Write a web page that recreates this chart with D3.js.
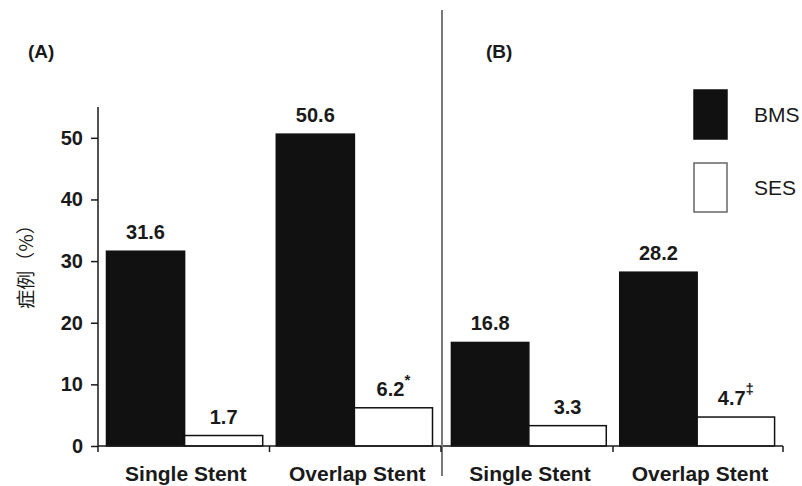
<!DOCTYPE html>
<html>
<head>
<meta charset="utf-8">
<script src="https://cdn.jsdelivr.net/npm/d3@7"></script>
<style>
  body { margin: 0; background: #fff; }
  svg text { font-family: "Liberation Sans", Arial, sans-serif; fill: #1a1a1a; }
</style>
</head>
<body>
<svg width="802" height="486"></svg>
<script>
// data
var groups = ["Single Stent", "Overlap Stent"];
var series = ["BMS", "SES"];
var bmsA = [31.6, 50.6];
var sesA = [1.7, 6.2];
var marksA = ["", "*"];
var bmsB = [16.8, 28.2];
var sesB = [3.3, 4.7];
var marksB = ["", "\u2021"];
var yTicks = [0, 10, 20, 30, 40, 50];

var svg = d3.select("svg");
var base = 446;

var y = d3.scaleLinear().domain([0, 55]).range([base, 107]);

// y axis
var yAxis = svg.append("g")
    .attr("transform", "translate(98,0)")
    .call(d3.axisLeft(y).tickValues(yTicks).tickSize(7).tickPadding(8));
yAxis.select(".domain").attr("d", "M0," + (y(55)) + "V" + (base + 6)).attr("stroke", "#1a1a1a").attr("stroke-width", 1.5);
yAxis.selectAll(".tick line").attr("stroke", "#1a1a1a").attr("stroke-width", 1.5);
yAxis.selectAll(".tick text")
    .style("font-family", "'Liberation Sans', Arial, sans-serif")
    .style("font-size", "20px").style("font-weight", "bold").attr("fill", "#1a1a1a");

svg.append("text")
    .attr("transform", "translate(26,262) rotate(-90)")
    .attr("text-anchor", "middle")
    .attr("dy", "0.35em")
    .style("font-family", "'Noto Sans CJK SC', sans-serif")
    .style("font-size", "19px")
    .attr("fill", "#333")
    .text("症例（%）");

// divider
svg.append("line").attr("x1", 442).attr("x2", 442).attr("y1", 10).attr("y2", 476)
    .attr("stroke", "#222").attr("stroke-width", 1.2);

function panel(x0, x1, bms, ses, marks, label, labelX) {
  var x = d3.scaleBand().domain(groups).range([x0, x1]).paddingInner(0.08).paddingOuter(0.05);
  var xs = d3.scaleBand().domain(series).range([0, x.bandwidth()]);
  var g = svg.append("g");
  var rows = groups.map(function(c, i) { return { cat: c, vals: [bms[i], ses[i]], mark: marks[i] }; });

  var grp = g.selectAll(".grp").data(rows).enter().append("g")
      .attr("transform", function(d) { return "translate(" + x(d.cat) + ",0)"; });

  grp.selectAll("rect").data(function(d) { return d.vals.map(function(v, j) { return { s: series[j], v: v }; }); })
    .enter().append("rect")
      .attr("x", function(d) { return xs(d.s); })
      .attr("y", function(d) { return y(d.v); })
      .attr("width", xs.bandwidth())
      .attr("height", function(d) { return base - y(d.v); })
      .attr("fill", function(d) { return d.s == "BMS" ? "#111" : "#fff"; })
      .attr("stroke", "#111").attr("stroke-width", 1.5);

  grp.each(function(d) {
    var gg = d3.select(this);
    d.vals.forEach(function(v, j) {
      var t = gg.append("text")
          .attr("x", xs(series[j]) + xs.bandwidth() / 2)
          .attr("y", y(v) - 12)
          .attr("text-anchor", "middle")
          .style("font-size", "20px").style("font-weight", "bold")
          .text(v.toFixed(1));
      if (j == 1 && d.mark) {
        t.append("tspan").attr("dy", -11).style("font-size", "15px").text(d.mark);
      }
    });
  });

  // baseline with group ticks
  var step = x.step();
  var bounds = [x0, x(groups[1]) - step * x.paddingInner() / 2, x1];
  g.append("line").attr("x1", x0).attr("x2", x1).attr("y1", base).attr("y2", base)
      .attr("stroke", "#1a1a1a").attr("stroke-width", 1.5);
  g.selectAll(".bt").data(bounds.slice(1)).enter().append("line")
      .attr("x1", function(d) { return d; }).attr("x2", function(d) { return d; })
      .attr("y1", base).attr("y2", base + 6)
      .attr("stroke", "#1a1a1a").attr("stroke-width", 1.5);

  g.selectAll(".cl").data(groups).enter().append("text")
      .attr("x", function(d, i) { return (bounds[i] + bounds[i + 1]) / 2 + 2; })
      .attr("y", 481)
      .attr("text-anchor", "middle")
      .style("font-size", "21px").style("font-weight", "bold")
      .text(function(d) { return d; });

  svg.append("text").attr("x", labelX).attr("y", 58)
      .style("font-size", "19px").style("font-weight", "bold")
      .text(label);
}

panel(98, 441, bmsA, sesA, marksA, "(A)", 28);
panel(443, 783, bmsB, sesB, marksB, "(B)", 486);

// legend
var leg = svg.append("g").selectAll("g").data(series).enter().append("g")
    .attr("transform", function(d, i) { return "translate(694," + (90 + i * 73) + ")"; });
leg.append("rect").attr("width", 33).attr("height", 49)
    .attr("fill", function(d) { return d == "BMS" ? "#111" : "#fff"; })
    .attr("stroke", function(d) { return d == "BMS" ? "#111" : "#666"; }).attr("stroke-width", 1.5);
leg.append("text").attr("x", 60).attr("y", 32)
    .style("font-size", "21px")
    .text(function(d) { return d; });
</script>
</body>
</html>
